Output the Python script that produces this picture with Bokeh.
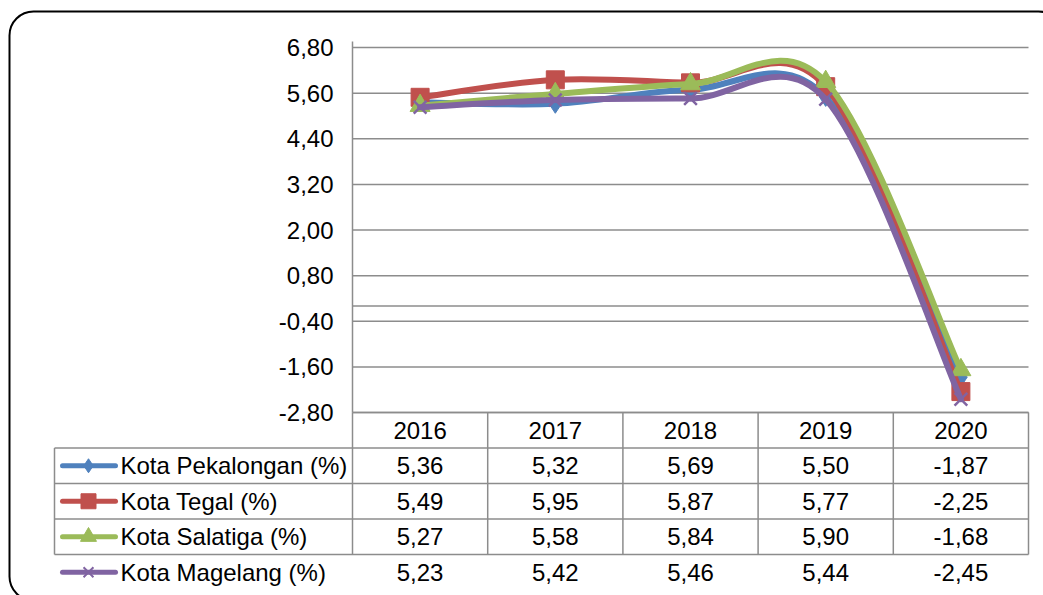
from bokeh.plotting import figure
from bokeh.models import Range1d, FixedTicker, CustomJSTickFormatter, BoxAnnotation
from bokeh.core.properties import value
from bokeh.embed import file_html
from bokeh.resources import INLINE

# ---------------- data ----------------
YEARS = ["2016", "2017", "2018", "2019", "2020"]
NAMES = ["Kota Pekalongan (%)", "Kota Tegal (%)", "Kota Salatiga (%)", "Kota Magelang (%)"]
PEKALONGAN = [5.36, 5.32, 5.69, 5.50, -1.87]
TEGAL = [5.49, 5.95, 5.87, 5.77, -2.25]
SALATIGA = [5.27, 5.58, 5.84, 5.90, -1.68]
MAGELANG = [5.23, 5.42, 5.46, 5.44, -2.45]
YTICKS = [-2.8, -1.6, -0.4, 0.8, 2.0, 3.2, 4.4, 5.6, 6.8]
YTICK_LABELS = ["-2,80", "-1,60", "-0,40", "0,80", "2,00", "3,20", "4,40", "5,60", "6,80"]

SERIES = [PEKALONGAN, TEGAL, SALATIGA, MAGELANG]

# ---------------- style / layout ----------------
COLORS = ["#4F81BD", "#C0504D", "#9BBB59", "#8064A2"]
MARKERS = ["diamond", "square", "triangle", "x"]
MSIZE = [19, 18, 20, 18]
KEY_MSIZE = [14, 15, 16, 14]
GRID = "#8C8C8C"
FONT = "Liberation Sans"
FSIZE = "24px"

W, H = 1043, 595
PX_LEFT, PX_RIGHT = 352, 1028      # plot area, canvas px
PX_TOP, PX_BOT = 47, 412           # y of top / bottom tick, canvas px
ROW_H = 35.5
YMIN, YMAX = YTICKS[0], YTICKS[-1]
NCAT = len(YEARS)

sx = (PX_RIGHT - PX_LEFT) / NCAT
sy = (PX_BOT - PX_TOP) / (YMAX - YMIN)
x0r = -PX_LEFT / sx
ytop = YMAX + PX_TOP / sy


def xd(px):
    return x0r + px / sx


def yd(py):
    return ytop - py / sy


xr = Range1d(x0r, NCAT + (W - PX_RIGHT) / sx)
yr = Range1d(YMIN - (H - PX_BOT) / sy, ytop)
tr = Range1d((H - PX_BOT) / ROW_H, -PX_BOT / ROW_H)   # table rows, downward

p = figure(width=W, height=H, x_range=xr, y_range=yr,
           output_backend="svg", toolbar_location=None,
           x_axis_location=None, y_axis_location="left", min_border=0)
p.outline_line_color = None
p.grid.visible = False
p.extra_y_ranges = {"table": tr}

# outer rounded frame (bottom and right edges fall outside the picture)
p.add_layout(BoxAnnotation(left=xd(9), right=xd(1062), top=yd(11), bottom=yd(600),
                           border_radius=24, fill_color=None, fill_alpha=0,
                           line_color="black", line_alpha=1, line_width=2,
                           level="underlay"))

# y axis
ax = p.yaxis[0]
ax.fixed_location = 0
ax.ticker = FixedTicker(ticks=YTICKS)
ax.major_label_overrides = dict(zip(YTICKS, YTICK_LABELS))
ax.formatter = CustomJSTickFormatter(code="return tick.toFixed(2).replace('.', ',')")
ax.bounds = (YMIN, yd(41))
ax.axis_line_color = GRID
ax.axis_line_width = 1.5
ax.major_tick_in = 0
ax.major_tick_out = 0
ax.minor_tick_in = 0
ax.minor_tick_out = 0
ax.major_label_standoff = 19
ax.major_label_text_font = FONT
ax.major_label_text_font_size = FSIZE
ax.major_label_text_color = "black"

# horizontal gridlines + category axis at zero
p.segment(x0=[0] * len(YTICKS), x1=[NCAT] * len(YTICKS), y0=YTICKS, y1=YTICKS,
          line_color=GRID, line_width=1.5)
p.segment(x0=[0], x1=[NCAT], y0=[0], y1=[0], line_color=GRID, line_width=1.5)


# smoothed series (Catmull-Rom -> cubic Bezier)
def bez(ys):
    pts = [(i + 0.5, v) for i, v in enumerate(ys)]
    n = len(pts)
    d = dict(x0=[], y0=[], x1=[], y1=[], cx0=[], cy0=[], cx1=[], cy1=[])
    for i in range(n - 1):
        p0 = pts[max(i - 1, 0)]
        p1 = pts[i]
        p2 = pts[i + 1]
        p3 = pts[min(i + 2, n - 1)]
        d["x0"].append(p1[0]); d["y0"].append(p1[1])
        d["x1"].append(p2[0]); d["y1"].append(p2[1])
        d["cx0"].append(p1[0] + (p2[0] - p0[0]) / 6)
        d["cy0"].append(p1[1] + (p2[1] - p0[1]) / 6)
        d["cx1"].append(p2[0] - (p3[0] - p1[0]) / 6)
        d["cy1"].append(p2[1] - (p3[1] - p1[1]) / 6)
    return d


xs = [i + 0.5 for i in range(NCAT)]
for k, ys in enumerate(SERIES):
    b = bez(ys)
    p.bezier(x0=b["x0"], y0=b["y0"], x1=b["x1"], y1=b["y1"],
             cx0=b["cx0"], cy0=b["cy0"], cx1=b["cx1"], cy1=b["cy1"],
             line_color=COLORS[k], line_width=6, line_cap="round")
    if MARKERS[k] == "x":
        p.scatter(xs, ys, marker="x", size=MSIZE[k], line_color=COLORS[k], line_width=2.5)
    else:
        p.scatter(xs, ys, marker=MARKERS[k], size=MSIZE[k], fill_color=COLORS[k],
                  line_color=COLORS[k])

# ---------------- data table ----------------
tleft = xd(54)
nrow = len(SERIES)
hx0 = [0] + [tleft] * nrow
hx1 = [NCAT] * (nrow + 1)
hy = list(range(0, nrow + 1))
p.segment(x0=hx0, x1=hx1, y0=hy, y1=hy, line_color=GRID, line_width=1.5, y_range_name="table")
vx = list(range(0, NCAT + 1)) + [tleft]
vy0 = [0] * (NCAT + 1) + [1]
vy1 = [nrow] * (NCAT + 2)
p.segment(x0=vx, x1=vx, y0=vy0, y1=vy1, line_color=GRID, line_width=1.5, y_range_name="table")

p.text(x=xs, y=[0.5] * NCAT, text=YEARS, text_align="center", text_baseline="middle",
       text_font=value(FONT), text_font_size=FSIZE, text_color="black", y_range_name="table")

for k, ys in enumerate(SERIES):
    r = k + 1.5
    labels = [f"{v:.2f}".replace(".", ",") for v in ys]
    p.text(x=xs, y=[r] * NCAT, text=labels, text_align="center", text_baseline="middle",
           text_font=value(FONT), text_font_size=FSIZE, text_color="black",
           y_range_name="table")
    p.text(x=[xd(120)], y=[r], text=[NAMES[k]], text_align="left", text_baseline="middle",
           text_font=value(FONT), text_font_size=FSIZE, text_color="black",
           y_range_name="table")
    p.segment(x0=[xd(62)], x1=[xd(115)], y0=[r], y1=[r], line_color=COLORS[k],
              line_width=5, line_cap="round", y_range_name="table")
    if MARKERS[k] == "x":
        p.scatter([xd(88)], [r], marker="x", size=KEY_MSIZE[k], line_color=COLORS[k],
                  line_width=2, y_range_name="table")
    else:
        p.scatter([xd(88)], [r], marker=MARKERS[k], size=KEY_MSIZE[k],
                  fill_color=COLORS[k], line_color=COLORS[k], y_range_name="table")

open("out.html", "w").write(file_html(p, INLINE))
